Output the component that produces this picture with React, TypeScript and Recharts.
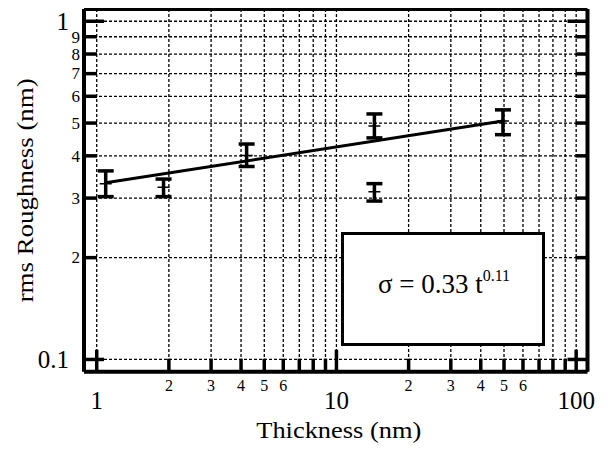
import React from 'react';
import { ComposedChart, Scatter, XAxis, YAxis, CartesianGrid, ErrorBar, Label } from 'recharts';

// ---- data ----
const thickness = [1.09, 1.9, 4.22, 14.4, 14.4, 49.5];
const roughness = [0.331, 0.323, 0.401, 0.49, 0.313, 0.507];
const errLow = [0.028, 0.02, 0.029, 0.038, 0.019, 0.045];
const errHigh = [0.03, 0.0185, 0.0325, 0.042, 0.018, 0.04];
const fitX = [1.09, 49.5];
const fitY = [0.333, 0.507];

const xTicks = [1, 2, 3, 4, 5, 6, 7, 8, 9, 10, 20, 30, 40, 50, 60, 70, 80, 90, 100];
const xMajor = [1, 10, 100];
const xLabelled = [1, 2, 3, 4, 5, 6, 10, 20, 30, 40, 50, 60, 100];
const yTicks = [0.1, 0.2, 0.3, 0.4, 0.5, 0.6, 0.7, 0.8, 0.9, 1];
const yMajor = [0.1, 1];
const yLabels = ['0.1', '2', '3', '4', '5', '6', '7', '8', '9', '1'];

const xDomain = [0.885, 111.5];
const yDomain = [0.092, 1.087];

const pointData = thickness.map((t, i) => ({ x: t, y: roughness[i], err: [errLow[i], errHigh[i]] }));
const fitData = fitX.map((x, i) => ({ x, y: fitY[i] }));

const FONT = 'Liberation Serif, Tinos, DejaVu Serif, Times, serif';

const xLabelText = (v: number): string | null => {
  if (!xLabelled.includes(v)) return null;
  if (xMajor.includes(v)) return String(v);
  return String(v).charAt(0);
};

const BottomTick = (p: any) => {
  const { x, y, payload } = p;
  const v = payload.value;
  const major = xMajor.includes(v);
  const lbl = xLabelText(v);
  return (
    <g>
      <line x1={x} x2={x} y1={y} y2={y - (major ? 22 : 13)} stroke="#000" strokeWidth={3.5} />
      {lbl && (
        <text x={x} y={y + (major ? 37 : 19)} textAnchor="middle" style={{ fontFamily: FONT }} fontSize={major ? 25 : 16} fill="#000">
          {lbl}
        </text>
      )}
    </g>
  );
};

const TopTick = (p: any) => {
  const { x, y, payload } = p;
  const major = xMajor.includes(payload.value);
  return <line x1={x} x2={x} y1={y} y2={y + (major ? 20 : 12)} stroke="#000" strokeWidth={3.5} />;
};

const LeftTick = (p: any) => {
  const { x, y, payload, index } = p;
  const v = payload.value;
  const major = yMajor.includes(v);
  const lbl = yLabels[index];
  const fs = major ? 25 : 17;
  return (
    <g>
      <line x1={x} x2={x + (major ? 20 : 13)} y1={y} y2={y} stroke="#000" strokeWidth={3.5} />
      <text x={x - (major ? 15 : 4)} y={y + fs * 0.34} textAnchor="end" style={{ fontFamily: FONT }} fontSize={fs} fill="#000">
        {lbl}
      </text>
    </g>
  );
};

const RightTick = (p: any) => {
  const { x, y, payload } = p;
  const major = yMajor.includes(payload.value);
  return <line x1={x} x2={x - (major ? 20 : 12)} y1={y} y2={y} stroke="#000" strokeWidth={3.5} />;
};

const CenterMark = (p: any) => (
  <line x1={p.cx - 6} x2={p.cx + 6} y1={p.cy} y2={p.cy} stroke="#000" strokeWidth={1.5} />
);
const NoMark = () => <g />;

const YTitle = (p: any) => {
  const vb = p.viewBox;
  const cx = vb.x + 25;
  const cy = vb.y + vb.height / 2;
  return (
    <text
      x={cx}
      y={cy}
      transform={`rotate(-90, ${cx}, ${cy})`}
      textAnchor="middle"
      style={{ fontFamily: FONT }}
      fontSize={24}
      fill="#000"
      textLength={224}
      lengthAdjust="spacingAndGlyphs"
    >
      rms Roughness (nm)
    </text>
  );
};

const XTitle = (p: any) => {
  const vb = p.viewBox;
  const cx = vb.x + vb.width / 2 + 3;
  const by = vb.y + 66.6;
  return (
    <text x={cx} y={by} textAnchor="middle" style={{ fontFamily: FONT }} fontSize={23} fill="#000" textLength={165} lengthAdjust="spacingAndGlyphs">
      Thickness (nm)
    </text>
  );
};

export default function App() {
  return (
    <div style={{ position: 'relative', width: 601, height: 450 }}>
      <ComposedChart width={601} height={450} margin={{ top: 0, right: 20.5, bottom: 0, left: 0 }}>
        <CartesianGrid
          xAxisId="b"
          yAxisId="l"
          stroke="#000"
          strokeWidth={1.3}
          strokeDasharray="3 2"
        />
        <XAxis
          xAxisId="b"
          dataKey="x"
          type="number"
          scale="log"
          domain={xDomain}
          allowDataOverflow
          ticks={xTicks}
          interval={0}
          tickSize={0}
          tickMargin={0}
          tickLine={false}
          axisLine={{ stroke: '#000', strokeWidth: 4 }}
          tick={BottomTick}
          height={86.3}
        >
          <Label content={XTitle} />
        </XAxis>
        <XAxis
          xAxisId="t"
          orientation="top"
          type="number"
          scale="log"
          domain={xDomain}
          allowDataOverflow
          ticks={xTicks}
          interval={0}
          tickSize={0}
          tickMargin={0}
          tickLine={false}
          axisLine={{ stroke: '#000', strokeWidth: 4 }}
          tick={TopTick}
          height={1}
        />
        <YAxis
          yAxisId="l"
          dataKey="y"
          type="number"
          scale="log"
          domain={yDomain}
          allowDataOverflow
          ticks={yTicks}
          interval={0}
          tickSize={0}
          tickMargin={0}
          tickLine={false}
          axisLine={{ stroke: '#000', strokeWidth: 4 }}
          tick={LeftTick}
          width={76}
        >
          <Label content={YTitle} />
        </YAxis>
        <YAxis
          yAxisId="r"
          orientation="right"
          type="number"
          scale="log"
          domain={yDomain}
          allowDataOverflow
          ticks={yTicks}
          interval={0}
          tickSize={0}
          tickMargin={0}
          tickLine={false}
          axisLine={{ stroke: '#000', strokeWidth: 4 }}
          tick={RightTick}
          width={1}
        />
        <Scatter
          xAxisId="b"
          yAxisId="l"
          data={fitData}
          dataKey="y"
          line={{ stroke: '#000', strokeWidth: 3 }}
          shape={NoMark}
          isAnimationActive={false}
        />
        <Scatter
          xAxisId="b"
          yAxisId="l"
          data={pointData}
          dataKey="y"
          shape={CenterMark}
          isAnimationActive={false}
        >
          <ErrorBar dataKey="err" direction="y" width={8} strokeWidth={3.5} stroke="#000" isAnimationActive={false} />
        </Scatter>
      </ComposedChart>
      <div
        style={{
          position: 'absolute',
          left: 333,
          top: 224,
          width: 204,
          height: 114,
          boxSizing: 'border-box',
          border: '3px solid #000',
          background: '#fff',
        }}
      >
        <svg width={198} height={108} style={{ display: 'block' }}>
          <text x={100} y={58.3} textAnchor="middle" style={{ fontFamily: FONT }} fontSize={27} fill="#000">
            σ = 0.33 t
            <tspan fontSize={16} dy={-12}>0.11</tspan>
          </text>
        </svg>
      </div>
    </div>
  );
}
